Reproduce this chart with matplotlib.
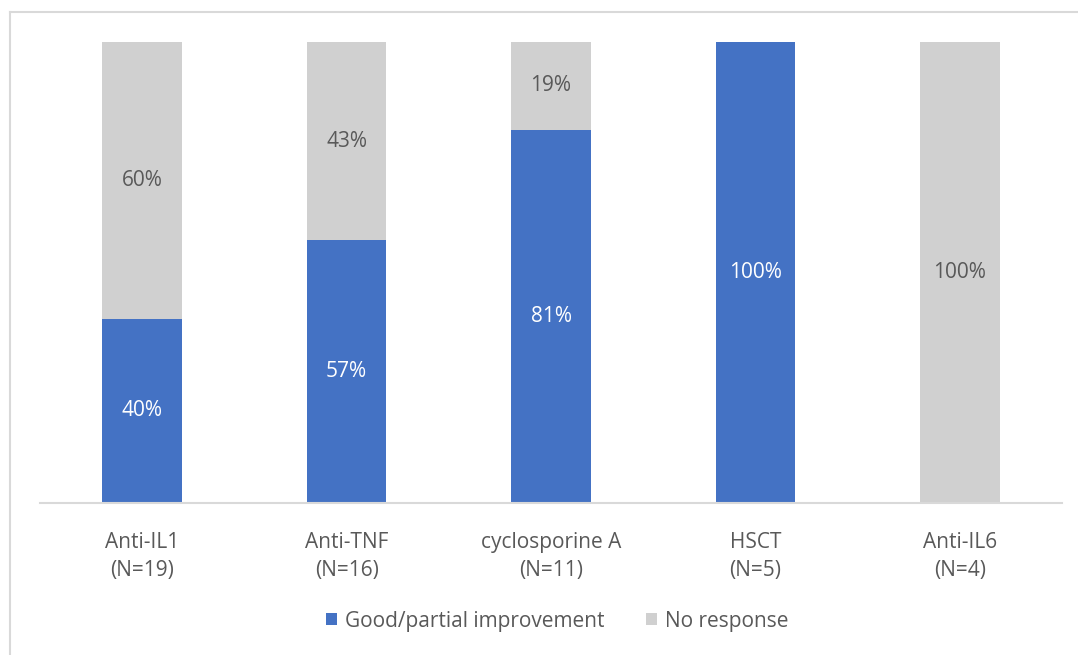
import matplotlib
matplotlib.use("Agg")
import matplotlib.pyplot as plt
from matplotlib.lines import Line2D

categories = ["Anti-IL1\n(N=19)", "Anti-TNF\n(N=16)", "cyclosporine A\n(N=11)", "HSCT\n(N=5)", "Anti-IL6\n(N=4)"]
good = [40, 57, 81, 100, 0]
no_resp = [60, 43, 19, 0, 100]
series_names = ["Good/partial improvement", "No response"]

blue = "#4472C4"
grey = "#D0D0D0"
txt = "#595959"

plt.rcParams['font.family'] = ['Open Sans', 'DejaVu Sans']
fs = 15

fig = plt.figure(figsize=(10.78, 6.55), dpi=100)
ax = fig.add_axes([40/1078, (655-503)/655, (1062-40)/1078, (503-42)/655])

x = list(range(len(categories)))
w = 0.39
b1 = ax.bar(x, good, w, color=blue, label=series_names[0], zorder=2)
b2 = ax.bar(x, no_resp, w, bottom=good, color=grey, label=series_names[1], zorder=2)

for i in x:
    if good[i] > 0:
        ax.text(i, good[i]/2, f"{good[i]}%", ha="center", va="center", color="white", fontsize=fs)
    if no_resp[i] > 0:
        ax.text(i, good[i] + no_resp[i]/2, f"{no_resp[i]}%", ha="center", va="center", color=txt, fontsize=fs)

ax.set_xlim(-0.5, len(categories) - 0.5)
ax.set_ylim(0, 100)
ax.set_yticks([])
ax.set_xticks(x)
ax.set_xticklabels(categories, color=txt, fontsize=fs, linespacing=1.45)
ax.tick_params(axis="x", length=0, pad=21)
for s in ["top", "right", "left"]:
    ax.spines[s].set_visible(False)
ax.spines["bottom"].set_color("#D9D9D9")
ax.spines["bottom"].set_linewidth(1.5)

leg = fig.legend(handles=[b1, b2], labels=series_names, loc="center", bbox_to_anchor=(557/1078, 1 - 621/655),
                 ncol=2, frameon=False, fontsize=fs, handlelength=0.55, handleheight=0.55,
                 handletextpad=0.35, columnspacing=2.0)
for t in leg.get_texts():
    t.set_color(txt)

fig.add_artist(Line2D([10/1078, 10/1078], [0, 1 - 12/655], color="#D9D9D9", lw=1.5, transform=fig.transFigure))
fig.add_artist(Line2D([10/1078, 1], [1 - 12/655, 1 - 12/655], color="#D9D9D9", lw=1.5, transform=fig.transFigure))

fig.savefig("out.png", dpi=100)
